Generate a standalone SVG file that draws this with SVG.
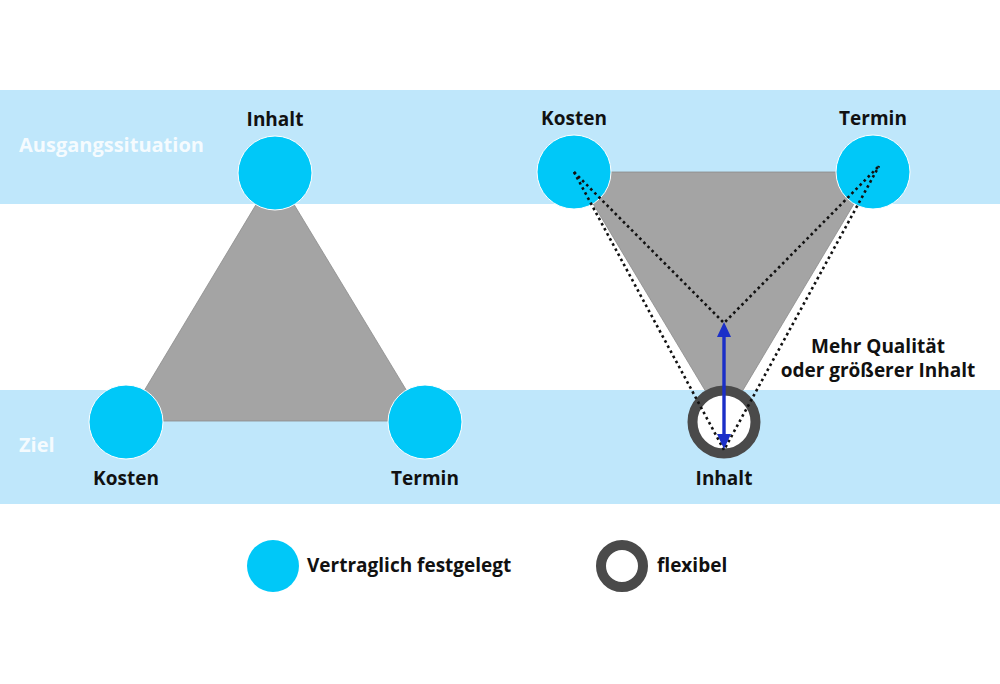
<svg xmlns="http://www.w3.org/2000/svg" width="1000" height="684" viewBox="0 0 1000 684">
<defs>
<style>
.band{fill:#bfe7fb}
.fixed{fill:#00c8f8;stroke:#ffffff;stroke-width:1}
.flex{fill:#ffffff;stroke:#4a4a4a;stroke-width:10}
.tri{fill:#a4a4a4;stroke:#8c8c8c;stroke-width:0.8}
.lbl{font-family:"Open Sans","Noto Sans",sans-serif;font-weight:700;font-size:19px;fill:#111111}
.phase{font-family:"Open Sans","Noto Sans",sans-serif;font-weight:700;font-size:20px;fill:#ffffff;fill-opacity:0.85}
.dot{fill:none;stroke:#111111;stroke-width:2.6;stroke-dasharray:2.6 3.2}
.arrow{stroke:#1b2fc8;stroke-width:3.4;fill:none}
.head{fill:#1b2fc8}
</style>
</defs>
<rect width="1000" height="684" fill="#ffffff"/>
<g id="bands">
<rect class="band" x="0" y="90" width="1000" height="114"/>
<rect class="band" x="0" y="390" width="1000" height="114"/>
<text class="phase" x="19" y="152">Ausgangssituation</text>
<text class="phase" x="19" y="452">Ziel</text>
</g>
<g id="left-triangle">
<polygon class="tri" points="275,173 126,421 425,421"/>
</g>
<g id="right-triangle">
<polygon class="tri" points="574,172 873,172 724,422"/>
</g>
<g id="left-inhalt">
<circle class="fixed" cx="275" cy="173" r="37"/>
<text class="lbl" x="275" y="126" text-anchor="middle">Inhalt</text>
</g>
<g id="left-kosten">
<circle class="fixed" cx="126" cy="422" r="37"/>
<text class="lbl" x="126" y="485" text-anchor="middle">Kosten</text>
</g>
<g id="left-termin">
<circle class="fixed" cx="425" cy="422" r="37"/>
<text class="lbl" x="425" y="485" text-anchor="middle">Termin</text>
</g>
<g id="right-kosten">
<circle class="fixed" cx="574" cy="172" r="37"/>
<text class="lbl" x="574" y="125" text-anchor="middle">Kosten</text>
</g>
<g id="right-termin">
<circle class="fixed" cx="873" cy="172" r="37"/>
<text class="lbl" x="873" y="125" text-anchor="middle">Termin</text>
</g>
<g id="right-inhalt">
<circle class="flex" cx="724" cy="422" r="31.5"/>
<text class="lbl" x="724" y="485" text-anchor="middle">Inhalt</text>
</g>
<g id="connectors">
<polyline class="dot" points="574,172 724,323 879,166"/>
<polyline class="dot" points="574,172 724,450 879,166"/>
<line class="arrow" x1="724" y1="334" x2="724" y2="438"/>
<polygon class="head" points="724,322 717,337 731,337"/>
<polygon class="head" points="724,449 717,434 731,434"/>
</g>
<g id="note">
<text class="lbl" x="878" y="353" text-anchor="middle">Mehr Qualität</text>
<text class="lbl" x="878" y="377" text-anchor="middle">oder größerer Inhalt</text>
</g>
<g id="legend">
<circle cx="273" cy="566" r="26" fill="#00c8f8"/>
<text class="lbl" x="307" y="572">Vertraglich festgelegt</text>
<circle cx="622" cy="566" r="21" fill="#ffffff" stroke="#4a4a4a" stroke-width="10"/>
<text class="lbl" x="657" y="572">flexibel</text>
</g>
</svg>
